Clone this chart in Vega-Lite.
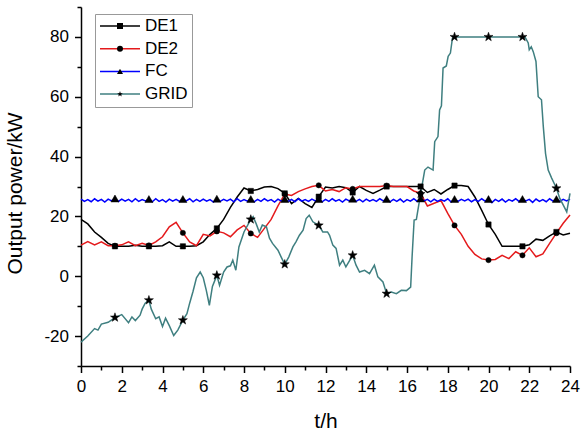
{
"$schema": "https://vega.github.io/schema/vega-lite/v6.json",
"width": 489, "height": 359,
"autosize": {"type": "none"},
"padding": {"left": 81, "top": 7, "right": 12, "bottom": 65},
"config": {"view": {"stroke": null}, "font": "Liberation Sans"},
"data": {"values": [
{"t":0,"s":"DE1","v":19},{"t":0.333,"s":"DE1","v":17.5},{"t":0.667,"s":"DE1","v":14.8},{"t":1,"s":"DE1","v":13},{"t":1.333,"s":"DE1","v":11},{"t":1.667,"s":"DE1","v":10,"m":1},{"t":2,"s":"DE1","v":10},{"t":2.333,"s":"DE1","v":10},{"t":2.667,"s":"DE1","v":10.4},{"t":3,"s":"DE1","v":10},{"t":3.333,"s":"DE1","v":10,"m":1},{"t":3.667,"s":"DE1","v":10},{"t":4,"s":"DE1","v":10.2},{"t":4.333,"s":"DE1","v":11.5},{"t":4.667,"s":"DE1","v":10},{"t":5,"s":"DE1","v":10,"m":1},{"t":5.333,"s":"DE1","v":10},{"t":5.667,"s":"DE1","v":10.2},{"t":6,"s":"DE1","v":11.5},{"t":6.333,"s":"DE1","v":14},{"t":6.667,"s":"DE1","v":16,"m":1},{"t":7,"s":"DE1","v":19},{"t":7.333,"s":"DE1","v":23},{"t":7.667,"s":"DE1","v":26.5},{"t":8,"s":"DE1","v":29.5},{"t":8.333,"s":"DE1","v":28.5,"m":1},{"t":8.667,"s":"DE1","v":29},{"t":9,"s":"DE1","v":29.8},{"t":9.333,"s":"DE1","v":30},{"t":9.667,"s":"DE1","v":29.3},{"t":10,"s":"DE1","v":27.7,"m":1},{"t":10.333,"s":"DE1","v":24.3},{"t":10.667,"s":"DE1","v":26},{"t":11,"s":"DE1","v":24.3},{"t":11.333,"s":"DE1","v":23},{"t":11.667,"s":"DE1","v":26.6,"m":1},{"t":12,"s":"DE1","v":29.8},{"t":12.333,"s":"DE1","v":29.5},{"t":12.667,"s":"DE1","v":30},{"t":13,"s":"DE1","v":29.6},{"t":13.333,"s":"DE1","v":28,"m":1},{"t":13.667,"s":"DE1","v":30},{"t":14,"s":"DE1","v":28.7},{"t":14.333,"s":"DE1","v":27.7},{"t":14.667,"s":"DE1","v":28.8},{"t":15,"s":"DE1","v":30,"m":1},{"t":15.333,"s":"DE1","v":30},{"t":15.667,"s":"DE1","v":30},{"t":16,"s":"DE1","v":30},{"t":16.333,"s":"DE1","v":30},{"t":16.667,"s":"DE1","v":30,"m":1},{"t":17,"s":"DE1","v":28},{"t":17.333,"s":"DE1","v":29},{"t":17.667,"s":"DE1","v":27.5},{"t":18,"s":"DE1","v":29},{"t":18.333,"s":"DE1","v":30.3,"m":1},{"t":18.667,"s":"DE1","v":30.3},{"t":19,"s":"DE1","v":30},{"t":19.333,"s":"DE1","v":26.5},{"t":19.667,"s":"DE1","v":22},{"t":20,"s":"DE1","v":17.3,"m":1},{"t":20.333,"s":"DE1","v":14},{"t":20.667,"s":"DE1","v":10},{"t":21,"s":"DE1","v":10},{"t":21.333,"s":"DE1","v":10},{"t":21.667,"s":"DE1","v":10,"m":1},{"t":22,"s":"DE1","v":10.5},{"t":22.333,"s":"DE1","v":12.4},{"t":22.667,"s":"DE1","v":12},{"t":23,"s":"DE1","v":13.5},{"t":23.333,"s":"DE1","v":14.8,"m":1},{"t":23.667,"s":"DE1","v":13.8},{"t":24,"s":"DE1","v":14.4},
{"t":0,"s":"DE2","v":10.4},{"t":0.333,"s":"DE2","v":11.6},{"t":0.667,"s":"DE2","v":10.5},{"t":1,"s":"DE2","v":11.5},{"t":1.333,"s":"DE2","v":10.2},{"t":1.667,"s":"DE2","v":10.2,"m":1},{"t":2,"s":"DE2","v":10.5},{"t":2.333,"s":"DE2","v":11.5},{"t":2.667,"s":"DE2","v":10.2},{"t":3,"s":"DE2","v":11},{"t":3.333,"s":"DE2","v":10.3,"m":1},{"t":3.667,"s":"DE2","v":11.5},{"t":4,"s":"DE2","v":13.2},{"t":4.333,"s":"DE2","v":16.5},{"t":4.667,"s":"DE2","v":18},{"t":5,"s":"DE2","v":14.5,"m":1},{"t":5.333,"s":"DE2","v":11.5},{"t":5.667,"s":"DE2","v":10.2},{"t":6,"s":"DE2","v":14},{"t":6.333,"s":"DE2","v":13.5},{"t":6.667,"s":"DE2","v":15,"m":1},{"t":7,"s":"DE2","v":14.5},{"t":7.333,"s":"DE2","v":13.2},{"t":7.667,"s":"DE2","v":15.5},{"t":8,"s":"DE2","v":17},{"t":8.333,"s":"DE2","v":14.3,"m":1},{"t":8.667,"s":"DE2","v":13},{"t":9,"s":"DE2","v":16},{"t":9.333,"s":"DE2","v":19},{"t":9.667,"s":"DE2","v":23.5},{"t":10,"s":"DE2","v":27.5,"m":1},{"t":10.333,"s":"DE2","v":27},{"t":10.667,"s":"DE2","v":28.3},{"t":11,"s":"DE2","v":29.2},{"t":11.333,"s":"DE2","v":30},{"t":11.667,"s":"DE2","v":30.4,"m":1},{"t":12,"s":"DE2","v":28.5},{"t":12.333,"s":"DE2","v":29},{"t":12.667,"s":"DE2","v":28.3},{"t":13,"s":"DE2","v":29.6},{"t":13.333,"s":"DE2","v":29.2,"m":1},{"t":13.667,"s":"DE2","v":30},{"t":14,"s":"DE2","v":30},{"t":14.333,"s":"DE2","v":30},{"t":14.667,"s":"DE2","v":30},{"t":15,"s":"DE2","v":30.3,"m":1},{"t":15.333,"s":"DE2","v":30},{"t":15.667,"s":"DE2","v":30},{"t":16,"s":"DE2","v":30},{"t":16.333,"s":"DE2","v":28.5},{"t":16.667,"s":"DE2","v":27.7,"m":1},{"t":17,"s":"DE2","v":23.5},{"t":17.333,"s":"DE2","v":24.4},{"t":17.667,"s":"DE2","v":25.3},{"t":18,"s":"DE2","v":21},{"t":18.333,"s":"DE2","v":17,"m":1},{"t":18.667,"s":"DE2","v":14},{"t":19,"s":"DE2","v":10},{"t":19.333,"s":"DE2","v":7.3},{"t":19.667,"s":"DE2","v":5.8},{"t":20,"s":"DE2","v":5.4,"m":1},{"t":20.333,"s":"DE2","v":5.6},{"t":20.667,"s":"DE2","v":7},{"t":21,"s":"DE2","v":5.9},{"t":21.333,"s":"DE2","v":8.2},{"t":21.667,"s":"DE2","v":7,"m":1},{"t":22,"s":"DE2","v":9.5},{"t":22.333,"s":"DE2","v":6.5},{"t":22.667,"s":"DE2","v":7.5},{"t":23,"s":"DE2","v":11},{"t":23.333,"s":"DE2","v":14.4,"m":1},{"t":23.667,"s":"DE2","v":17.7},{"t":24,"s":"DE2","v":20.5},
{"t":0,"s":"FC","v":25.8},{"t":0.167,"s":"FC","v":25},{"t":0.333,"s":"FC","v":25.6},{"t":0.5,"s":"FC","v":24.9},{"t":0.667,"s":"FC","v":25.9},{"t":0.833,"s":"FC","v":25.1},{"t":1,"s":"FC","v":25.7},{"t":1.167,"s":"FC","v":24.8},{"t":1.333,"s":"FC","v":25.8},{"t":1.5,"s":"FC","v":25.2},{"t":1.667,"s":"FC","v":26,"m":1},{"t":1.833,"s":"FC","v":25},{"t":2,"s":"FC","v":25.8},{"t":2.167,"s":"FC","v":25.1},{"t":2.333,"s":"FC","v":25.7},{"t":2.5,"s":"FC","v":24.9},{"t":2.667,"s":"FC","v":25.9},{"t":2.833,"s":"FC","v":25},{"t":3,"s":"FC","v":25.6},{"t":3.167,"s":"FC","v":25.2},{"t":3.333,"s":"FC","v":25.8,"m":1},{"t":3.5,"s":"FC","v":24.9},{"t":3.667,"s":"FC","v":25.9},{"t":3.833,"s":"FC","v":25},{"t":4,"s":"FC","v":25.6},{"t":4.167,"s":"FC","v":24.8},{"t":4.333,"s":"FC","v":25.8},{"t":4.5,"s":"FC","v":25.1},{"t":4.667,"s":"FC","v":25.7},{"t":4.833,"s":"FC","v":25},{"t":5,"s":"FC","v":25.8,"m":1},{"t":5.167,"s":"FC","v":25.2},{"t":5.333,"s":"FC","v":25.9},{"t":5.5,"s":"FC","v":24.9},{"t":5.667,"s":"FC","v":25.7},{"t":5.833,"s":"FC","v":25},{"t":6,"s":"FC","v":25.8},{"t":6.167,"s":"FC","v":25.1},{"t":6.333,"s":"FC","v":25.6},{"t":6.5,"s":"FC","v":24.8},{"t":6.667,"s":"FC","v":25.9,"m":1},{"t":6.833,"s":"FC","v":25},{"t":7,"s":"FC","v":25.7},{"t":7.167,"s":"FC","v":25.2},{"t":7.333,"s":"FC","v":25.8},{"t":7.5,"s":"FC","v":24.9},{"t":7.667,"s":"FC","v":25.9},{"t":7.833,"s":"FC","v":25},{"t":8,"s":"FC","v":25.6},{"t":8.167,"s":"FC","v":25.1},{"t":8.333,"s":"FC","v":25.8,"m":1},{"t":8.5,"s":"FC","v":24.9},{"t":8.667,"s":"FC","v":25.7},{"t":8.833,"s":"FC","v":25},{"t":9,"s":"FC","v":25.9},{"t":9.167,"s":"FC","v":25.2},{"t":9.333,"s":"FC","v":25.6},{"t":9.5,"s":"FC","v":24.8},{"t":9.667,"s":"FC","v":25.8},{"t":9.833,"s":"FC","v":25.1},{"t":10,"s":"FC","v":25.8,"m":1},{"t":10.167,"s":"FC","v":25},{"t":10.333,"s":"FC","v":25.7},{"t":10.5,"s":"FC","v":24.9},{"t":10.667,"s":"FC","v":25.9},{"t":10.833,"s":"FC","v":25.1},{"t":11,"s":"FC","v":25.6},{"t":11.167,"s":"FC","v":25},{"t":11.333,"s":"FC","v":25.8},{"t":11.5,"s":"FC","v":25.2},{"t":11.667,"s":"FC","v":25.8,"m":1},{"t":11.833,"s":"FC","v":24.9},{"t":12,"s":"FC","v":25.7},{"t":12.167,"s":"FC","v":25},{"t":12.333,"s":"FC","v":25.9},{"t":12.5,"s":"FC","v":25.1},{"t":12.667,"s":"FC","v":25.6},{"t":12.833,"s":"FC","v":24.8},{"t":13,"s":"FC","v":25.8},{"t":13.167,"s":"FC","v":25.2},{"t":13.333,"s":"FC","v":25.9,"m":1},{"t":13.5,"s":"FC","v":25},{"t":13.667,"s":"FC","v":25.7},{"t":13.833,"s":"FC","v":24.9},{"t":14,"s":"FC","v":25.8},{"t":14.167,"s":"FC","v":25.1},{"t":14.333,"s":"FC","v":25.6},{"t":14.5,"s":"FC","v":25},{"t":14.667,"s":"FC","v":25.9},{"t":14.833,"s":"FC","v":25.2},{"t":15,"s":"FC","v":25.8,"m":1},{"t":15.167,"s":"FC","v":24.9},{"t":15.333,"s":"FC","v":25.7},{"t":15.5,"s":"FC","v":25},{"t":15.667,"s":"FC","v":25.8},{"t":15.833,"s":"FC","v":24.8},{"t":16,"s":"FC","v":25.6},{"t":16.167,"s":"FC","v":25.1},{"t":16.333,"s":"FC","v":25.9},{"t":16.5,"s":"FC","v":25},{"t":16.667,"s":"FC","v":26,"m":1},{"t":16.833,"s":"FC","v":25.2},{"t":17,"s":"FC","v":25.7},{"t":17.167,"s":"FC","v":24.9},{"t":17.333,"s":"FC","v":25.8},{"t":17.5,"s":"FC","v":25},{"t":17.667,"s":"FC","v":25.6},{"t":17.833,"s":"FC","v":25.1},{"t":18,"s":"FC","v":25.9},{"t":18.167,"s":"FC","v":24.8},{"t":18.333,"s":"FC","v":25.8,"m":1},{"t":18.5,"s":"FC","v":25},{"t":18.667,"s":"FC","v":25.7},{"t":18.833,"s":"FC","v":25.2},{"t":19,"s":"FC","v":25.8},{"t":19.167,"s":"FC","v":24.9},{"t":19.333,"s":"FC","v":25.6},{"t":19.5,"s":"FC","v":25},{"t":19.667,"s":"FC","v":25.9},{"t":19.833,"s":"FC","v":25.1},{"t":20,"s":"FC","v":25.8,"m":1},{"t":20.167,"s":"FC","v":24.6},{"t":20.333,"s":"FC","v":25.7},{"t":20.5,"s":"FC","v":25},{"t":20.667,"s":"FC","v":25.8},{"t":20.833,"s":"FC","v":24.8},{"t":21,"s":"FC","v":25.6},{"t":21.167,"s":"FC","v":25.1},{"t":21.333,"s":"FC","v":25.9},{"t":21.5,"s":"FC","v":25},{"t":21.667,"s":"FC","v":25.8,"m":1},{"t":21.833,"s":"FC","v":25.2},{"t":22,"s":"FC","v":25.7},{"t":22.167,"s":"FC","v":24.7},{"t":22.333,"s":"FC","v":25.8},{"t":22.5,"s":"FC","v":25},{"t":22.667,"s":"FC","v":25.6},{"t":22.833,"s":"FC","v":24.9},{"t":23,"s":"FC","v":25.9},{"t":23.167,"s":"FC","v":25.1},{"t":23.333,"s":"FC","v":25.8,"m":1},{"t":23.5,"s":"FC","v":25},{"t":23.667,"s":"FC","v":25.7},{"t":23.833,"s":"FC","v":25.2},{"t":24,"s":"FC","v":25.8},
{"t":0,"s":"GRID","v":-22},{"t":0.333,"s":"GRID","v":-20},{"t":0.667,"s":"GRID","v":-17.5},{"t":0.833,"s":"GRID","v":-18},{"t":1,"s":"GRID","v":-16},{"t":1.333,"s":"GRID","v":-15.4},{"t":1.667,"s":"GRID","v":-13.8,"m":1},{"t":2,"s":"GRID","v":-12.8},{"t":2.333,"s":"GRID","v":-15.5},{"t":2.5,"s":"GRID","v":-13.6},{"t":2.667,"s":"GRID","v":-14.8},{"t":2.9,"s":"GRID","v":-13},{"t":3,"s":"GRID","v":-11},{"t":3.15,"s":"GRID","v":-9},{"t":3.333,"s":"GRID","v":-8,"m":1},{"t":3.45,"s":"GRID","v":-11},{"t":3.667,"s":"GRID","v":-14.2},{"t":3.833,"s":"GRID","v":-13.6},{"t":4,"s":"GRID","v":-16.8},{"t":4.15,"s":"GRID","v":-14},{"t":4.333,"s":"GRID","v":-16.5},{"t":4.55,"s":"GRID","v":-19.8},{"t":4.75,"s":"GRID","v":-18},{"t":5,"s":"GRID","v":-14.7,"m":1},{"t":5.2,"s":"GRID","v":-12.5},{"t":5.333,"s":"GRID","v":-9},{"t":5.5,"s":"GRID","v":-5},{"t":5.667,"s":"GRID","v":-0.5},{"t":5.85,"s":"GRID","v":1.4},{"t":6,"s":"GRID","v":-0.5},{"t":6.15,"s":"GRID","v":-4.7},{"t":6.3,"s":"GRID","v":-9.7},{"t":6.45,"s":"GRID","v":-3.4},{"t":6.667,"s":"GRID","v":0.3,"m":1},{"t":6.8,"s":"GRID","v":-3},{"t":7,"s":"GRID","v":1.4},{"t":7.167,"s":"GRID","v":3.1},{"t":7.333,"s":"GRID","v":3.5},{"t":7.45,"s":"GRID","v":5.4},{"t":7.6,"s":"GRID","v":2},{"t":7.75,"s":"GRID","v":9.8},{"t":8,"s":"GRID","v":14.8},{"t":8.333,"s":"GRID","v":19,"m":1},{"t":8.45,"s":"GRID","v":19.9},{"t":8.6,"s":"GRID","v":17.5},{"t":8.75,"s":"GRID","v":14.8},{"t":8.9,"s":"GRID","v":17.1},{"t":9.1,"s":"GRID","v":16.5},{"t":9.25,"s":"GRID","v":12.7},{"t":9.4,"s":"GRID","v":11},{"t":9.667,"s":"GRID","v":8.7},{"t":9.82,"s":"GRID","v":6.5},{"t":10,"s":"GRID","v":4,"m":1},{"t":10.2,"s":"GRID","v":6.5},{"t":10.4,"s":"GRID","v":9.8},{"t":10.55,"s":"GRID","v":11.5},{"t":10.72,"s":"GRID","v":13.7},{"t":10.9,"s":"GRID","v":15.4},{"t":11.05,"s":"GRID","v":19.3},{"t":11.2,"s":"GRID","v":20.4},{"t":11.38,"s":"GRID","v":18.2},{"t":11.667,"s":"GRID","v":17,"m":1},{"t":11.87,"s":"GRID","v":14.8},{"t":12.1,"s":"GRID","v":14.8},{"t":12.2,"s":"GRID","v":13.7},{"t":12.36,"s":"GRID","v":10.4},{"t":12.52,"s":"GRID","v":9.3},{"t":12.69,"s":"GRID","v":3.7},{"t":12.85,"s":"GRID","v":5.4},{"t":13,"s":"GRID","v":3.1},{"t":13.333,"s":"GRID","v":7,"m":1},{"t":13.5,"s":"GRID","v":3.7},{"t":13.67,"s":"GRID","v":1.4},{"t":13.92,"s":"GRID","v":2},{"t":14.16,"s":"GRID","v":0.9},{"t":14.4,"s":"GRID","v":3.7},{"t":14.57,"s":"GRID","v":-0.2},{"t":14.82,"s":"GRID","v":-1.9},{"t":15,"s":"GRID","v":-5.8,"m":1},{"t":15.23,"s":"GRID","v":-5.3},{"t":15.48,"s":"GRID","v":-5.8},{"t":15.72,"s":"GRID","v":-4.7},{"t":15.97,"s":"GRID","v":-4.8},{"t":16.18,"s":"GRID","v":-3.6},{"t":16.25,"s":"GRID","v":6.5},{"t":16.35,"s":"GRID","v":18.8},{"t":16.46,"s":"GRID","v":19},{"t":16.667,"s":"GRID","v":27.5,"m":1},{"t":16.87,"s":"GRID","v":35.5},{"t":17.03,"s":"GRID","v":36.5},{"t":17.28,"s":"GRID","v":35.5},{"t":17.36,"s":"GRID","v":45},{"t":17.52,"s":"GRID","v":46.7},{"t":17.6,"s":"GRID","v":55.6},{"t":17.69,"s":"GRID","v":57},{"t":17.77,"s":"GRID","v":69.6},{"t":17.93,"s":"GRID","v":70.3},{"t":18.02,"s":"GRID","v":73.5},{"t":18.13,"s":"GRID","v":74.6},{"t":18.23,"s":"GRID","v":79.6},{"t":18.333,"s":"GRID","v":80,"m":1},{"t":19,"s":"GRID","v":80},{"t":20,"s":"GRID","v":80,"m":1},{"t":21,"s":"GRID","v":80},{"t":21.667,"s":"GRID","v":80,"m":1},{"t":21.79,"s":"GRID","v":80},{"t":21.95,"s":"GRID","v":78},{"t":22,"s":"GRID","v":75.7},{"t":22.1,"s":"GRID","v":76.7},{"t":22.2,"s":"GRID","v":75},{"t":22.33,"s":"GRID","v":71.8},{"t":22.44,"s":"GRID","v":60},{"t":22.6,"s":"GRID","v":59},{"t":22.69,"s":"GRID","v":50},{"t":22.8,"s":"GRID","v":41},{"t":22.93,"s":"GRID","v":35.5},{"t":23.1,"s":"GRID","v":32.8},{"t":23.26,"s":"GRID","v":30.5},{"t":23.333,"s":"GRID","v":29.4,"m":1},{"t":23.5,"s":"GRID","v":26},{"t":23.67,"s":"GRID","v":23.8},{"t":23.84,"s":"GRID","v":21.5},{"t":24,"s":"GRID","v":27.7}
]},
"encoding": {
  "x": {"field": "t", "type": "quantitative", "scale": {"domain": [0, 24], "nice": false},
    "axis": {"title": "t/h", "values": [0,1,2,3,4,5,6,7,8,9,10,11,12,13,14,15,16,17,18,19,20,21,22,23,24],
      "labelExpr": "datum.value % 2 === 0 ? datum.label : ''",
      "tickSize": {"condition": {"test": "datum.value % 2 === 0", "value": 6.5}, "value": 4},
      "grid": false, "domainColor": "black", "domainWidth": 1.5, "tickColor": "black", "tickWidth": 1.5,
      "labelFontSize": 17, "labelColor": "black", "labelPadding": 6, "labelFlush": false, "labelOverlap": false,
      "titleFontSize": 21, "titleFontWeight": "normal", "titleColor": "black", "titleY": 61, "titleBaseline": "alphabetic"}},
  "y": {"field": "v", "type": "quantitative", "scale": {"domain": [-30, 90], "nice": false},
    "axis": {"title": "Output power/kW", "values": [-30,-20,-10,0,10,20,30,40,50,60,70,80,90],
      "labelExpr": "datum.value % 20 === 0 ? '' + datum.value : ''",
      "tickSize": {"condition": {"test": "datum.value % 20 === 0", "value": 6.5}, "value": 4},
      "grid": false, "domainColor": "black", "domainWidth": 1.5, "tickColor": "black", "tickWidth": 1.5,
      "labelFontSize": 17, "labelColor": "black", "labelPadding": 6, "labelFlush": false, "labelOverlap": false,
      "titleFontSize": 21, "titleFontWeight": "normal", "titleColor": "black",
      "titleX": -60, "titleY": 186, "titleAngle": -90, "titleAlign": "center", "titleBaseline": "alphabetic"}}
},
"layer": [
  {"mark": {"type": "line", "strokeWidth": 1.5},
   "encoding": {"color": {"field": "s", "type": "nominal",
     "scale": {"range": ["#000000", "#e41a1c", "#0000ff", "#3f7f80"]},
     "legend": {"orient": "none", "legendX": 14, "legendY": 7, "title": null, "symbolType": "stroke", "symbolSize": 1600, "symbolStrokeWidth": 1.5,
       "labelFontSize": 17, "labelColor": "black", "labelOffset": 4, "padding": 4, "rowPadding": 5.7, "clipHeight": 16,
       "strokeColor": "#999999", "fillColor": "white"}}}},
  {"transform": [{"filter": "datum.m == 1"}],
   "mark": {"type": "point", "filled": true, "color": "black", "opacity": 1, "strokeWidth": 0.5, "stroke": "black"},
   "encoding": {
     "shape": {"field": "s", "type": "nominal", "scale": {"range": ["square", "circle", "triangle-up", "M0,-1L0.235,-0.324L0.951,-0.309L0.38,0.124L0.588,0.809L0,0.4L-0.588,0.809L-0.38,0.124L-0.951,-0.309L-0.235,-0.324Z"]},
       "legend": {"orient": "none", "legendX": 14, "legendY": 7, "title": null, "symbolSize": 36, "symbolFillColor": "black", "symbolStrokeColor": "black", "symbolStrokeWidth": 0.5,
         "labelFontSize": 17, "labelExpr": "''", "labelOffset": 4, "padding": 4, "rowPadding": 5.7, "clipHeight": 16, "symbolOffset": 12.5}},
     "size": {"condition": [{"test": "datum.s === 'FC'", "value": 64}, {"test": "datum.s === 'GRID'", "value": 90}], "value": 28}}}
]
}
